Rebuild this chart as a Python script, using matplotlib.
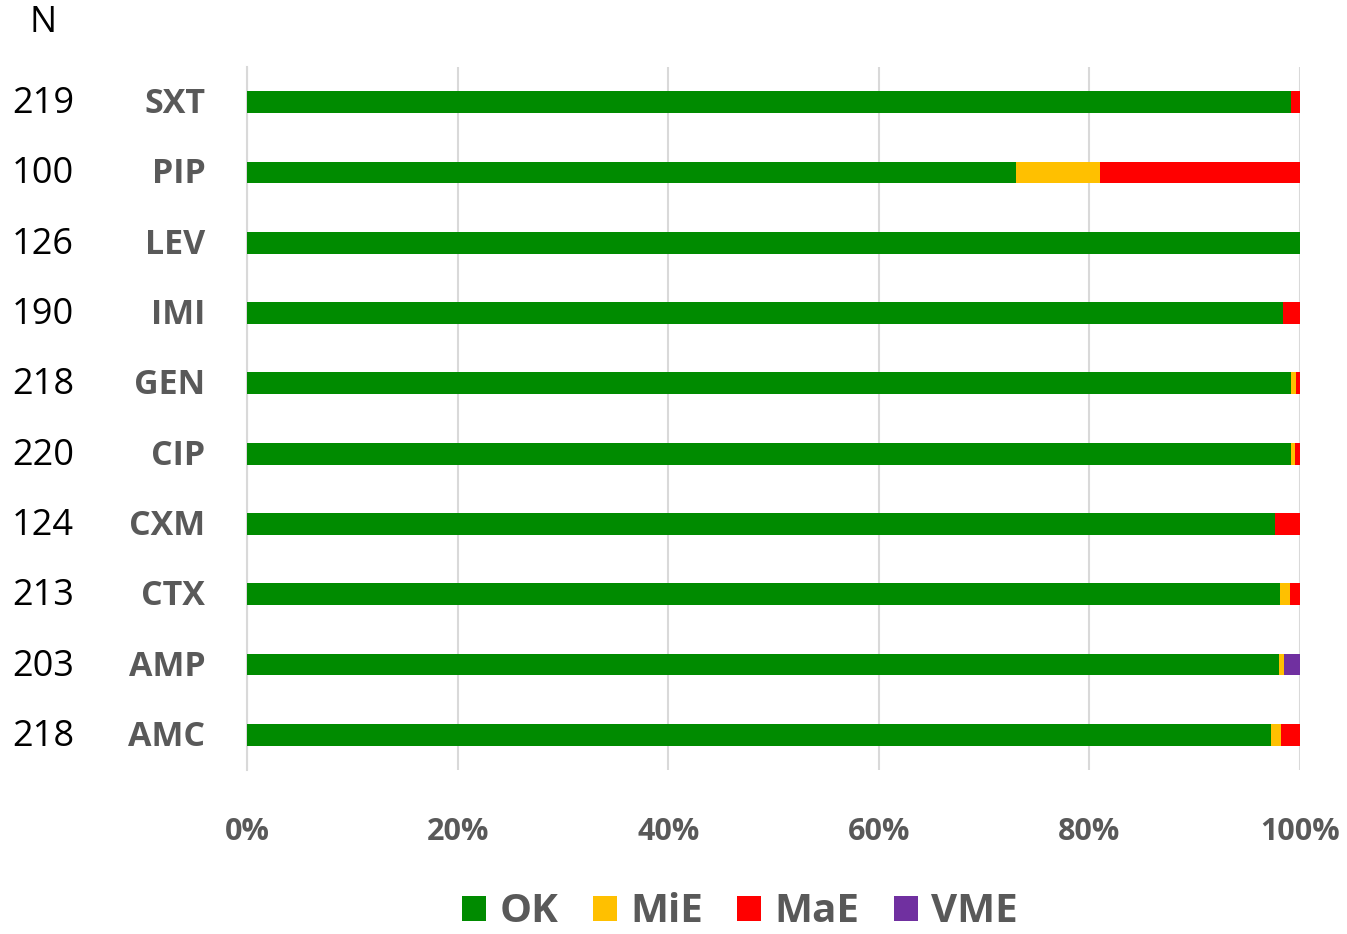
import matplotlib
matplotlib.use("Agg")
import matplotlib.pyplot as plt
import numpy as np
import matplotlib.transforms as mtrans
from matplotlib.patches import Patch

plt.rcParams['font.family'] = ['Open Sans', 'DejaVu Sans']

antibiotics = ["SXT", "PIP", "LEV", "IMI", "GEN", "CIP", "CXM", "CTX", "AMP", "AMC"]
n_values = [219, 100, 126, 190, 218, 220, 124, 213, 203, 218]
# percentages
ok  = [99.1, 73.0, 100.0, 98.4, 99.1, 99.1, 97.6, 98.1, 98.0, 97.2]
mie = [0.0, 8.0, 0.0, 0.0, 0.5, 0.45, 0.0, 0.95, 0.5, 1.0]
mae = [0.9, 19.0, 0.0, 1.6, 0.4, 0.45, 2.4, 0.95, 0.0, 1.8]
vme = [0.0, 0.0, 0.0, 0.0, 0.0, 0.0, 0.0, 0.0, 1.5, 0.0]
series_names = ["OK", "MiE", "MaE", "VME"]
colors = ["#008B00", "#FFC000", "#FF0000", "#7030A0"]
xticks = [0, 20, 40, 60, 80, 100]
xticklabels = ["0%", "20%", "40%", "60%", "80%", "100%"]

fig = plt.figure(figsize=(13.47, 9.34), dpi=100)
ax = fig.add_axes([247/1347, 1-770/934, (1300-247)/1347, (770-67)/934])

y = np.arange(len(antibiotics))
left = np.zeros(len(antibiotics))
for vals, c in zip([ok, mie, mae, vme], colors):
    vals = np.array(vals)
    ax.barh(y, vals, left=left, height=0.31, color=c, edgecolor='none', zorder=3)
    left += vals

ax.set_xlim(0, 100)
ax.set_ylim(len(antibiotics)-0.5, -0.5)
ax.set_xticks(xticks)
ax.set_xticklabels(xticklabels, fontsize=22, fontweight='bold', color='#595959')
ax.set_yticks(y)
ax.set_yticklabels(antibiotics, fontsize=24.5, fontweight='bold', color='#595959',
                   va='center')
ax.tick_params(axis='x', length=0, pad=34)
ax.tick_params(axis='y', length=0, pad=30)
ax.grid(axis='x', color='#D9D9D9', linewidth=1.5, zorder=0)
for s in ['top', 'right', 'bottom']:
    ax.spines[s].set_visible(False)
ax.spines['left'].set_color('#D9D9D9')
ax.spines['left'].set_linewidth(1.5)

shift = mtrans.ScaledTranslation(0, -2/100, fig.dpi_scale_trans)
for lbl in ax.get_yticklabels():
    lbl.set_transform(lbl.get_transform() + shift)

trans = mtrans.blended_transform_factory(fig.transFigure, ax.transData) + shift
for yi, n in zip(y, n_values):
    ax.text(43/1347, yi, str(n), transform=trans, ha='center', va='center',
            fontsize=26, color='black')
fig.text(43/1347, 1-23/934, "N", ha='center', va='center', fontsize=26, color='black')

handles = [Patch(facecolor=c, edgecolor='none') for c in colors]
leg = fig.legend(handles, series_names, loc='center', bbox_to_anchor=(740/1347, 1-912/934),
                 ncol=4, frameon=False, handlelength=0.6, handleheight=0.6,
                 handletextpad=0.33, columnspacing=0.85, borderpad=0.1,
                 prop={'size': 29, 'weight': 'bold'})
for t in leg.get_texts():
    t.set_color('#595959')

fig.savefig("out.png", dpi=100)
